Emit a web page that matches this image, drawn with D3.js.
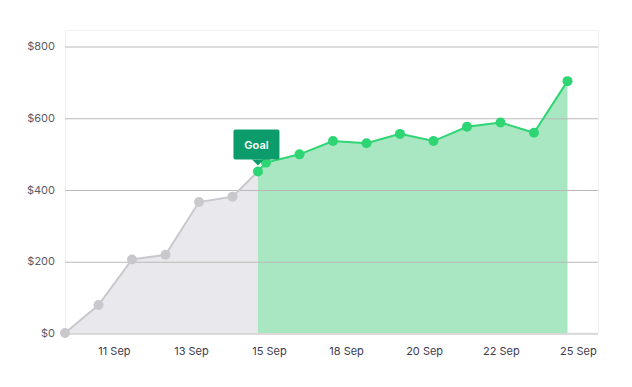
<!DOCTYPE html>
<html>
<head>
<meta charset="utf-8">
<script src="https://cdn.jsdelivr.net/npm/d3@7"></script>
<style>
  body { margin: 0; background: #fff; }
  text { font-family: Inter, "Noto Sans", sans-serif; }
</style>
</head>
<body>
<div id="graph"></div>
<script>
// actual savings, one per day slot (index 0..5)
var actualValues = [0, 78, 205, 218, 365, 380];
// goal point sits between slot 5 and 6
var goalIndex = 5.76;
var goalValue = 450;
// projected values, slots 6..15
var projectedValues = [475, 498, 535, 529, 555, 535, 575, 587, 558, 702];
// axis labels
var yTicks = [0, 200, 400, 600, 800];
var xTickLabels = ['11 Sep', '13 Sep', '15 Sep', '18 Sep', '20 Sep', '22 Sep', '25 Sep'];
var xTickIndex = [1.46, 3.76, 6.09, 8.39, 10.72, 13.01, 15.31];

window.onload = start;

function start() {
    var width = 632;
    var height = 387;

    var svg = d3.select('#graph')
        .append('svg')
        .attr('width', width)
        .attr('height', height);

    var xScale = d3.scaleLinear().domain([0, 15]).range([65, 567.5]);
    var yScale = d3.scaleLinear().domain([0, 800]).range([333, 46]);

    // plot frame
    svg.append('rect')
        .attr('x', 65.5).attr('y', 30.5)
        .attr('width', 533).attr('height', 302.5)
        .attr('fill', 'none')
        .attr('stroke', '#f0f0f0');

    var actual = actualValues.map(function(v, i) { return { i: i, v: v }; });
    actual.push({ i: goalIndex, v: goalValue });
    var projected = [{ i: goalIndex, v: goalValue }].concat(projectedValues.map(function(v, i) {
        return { i: i + 6, v: v };
    }));

    var area = d3.area()
        .x(function(d) { return xScale(d.i); })
        .y0(yScale(0))
        .y1(function(d) { return yScale(d.v); });
    var line = d3.line()
        .x(function(d) { return xScale(d.i); })
        .y(function(d) { return yScale(d.v); });

    svg.append('path').datum(actual).attr('d', area).attr('fill', '#e9e8ec');
    svg.append('path').datum(projected).attr('d', area).attr('fill', '#a9e6c2');

    // grid
    var yAxis = d3.axisLeft(yScale)
        .tickValues(yTicks)
        .tickSize(-533)
        .tickPadding(10)
        .tickFormat(function(d) { return '$' + d; });
    var gy = svg.append('g')
        .attr('transform', 'translate(65,0)')
        .call(yAxis);
    gy.select('.domain').remove();
    gy.selectAll('line').attr('stroke', '#b9b9b9').attr('transform', 'translate(0,0.5)');
    gy.selectAll('text').attr('fill', '#5a5a66').attr('font-size', 11);

    svg.append('path').datum(actual).attr('d', line)
        .attr('fill', 'none').attr('stroke', '#c9c8cd').attr('stroke-width', 2);
    svg.append('path').datum(projected).attr('d', line)
        .attr('fill', 'none').attr('stroke', '#2ed573').attr('stroke-width', 2);

    svg.append('g').selectAll('circle')
        .data(actual.slice(0, actualValues.length))
        .enter().append('circle')
        .attr('cx', function(d) { return xScale(d.i); })
        .attr('cy', function(d) { return yScale(d.v); })
        .attr('r', 5)
        .attr('fill', '#c9c8cd');

    svg.append('g').selectAll('circle')
        .data(projected)
        .enter().append('circle')
        .attr('cx', function(d) { return xScale(d.i); })
        .attr('cy', function(d) { return yScale(d.v); })
        .attr('r', 5)
        .attr('fill', '#2ed573');

    // x labels
    var xAxis = d3.axisBottom(xScale)
        .tickValues(xTickIndex)
        .tickSize(0)
        .tickPadding(14)
        .tickFormat(function(d, i) { return xTickLabels[i]; });
    var gx = svg.append('g')
        .attr('transform', 'translate(0,333)')
        .call(xAxis);
    gx.select('.domain').remove();
    gx.selectAll('text').attr('fill', '#3c3b4e').attr('font-size', 11);

    // goal tooltip
    var gxp = xScale(goalIndex);
    var gyp = yScale(goalValue);
    var tip = svg.append('g').attr('transform', 'translate(' + gxp + ',' + (gyp - 12) + ')');
    tip.append('rect')
        .attr('x', -24.5).attr('y', -30)
        .attr('width', 46).attr('height', 30)
        .attr('rx', 2)
        .attr('fill', '#0c9b6b');
    tip.append('path')
        .attr('d', 'M-6,0 L0,6 L6,0 Z')
        .attr('fill', '#0c9b6b');
    tip.append('text')
        .attr('x', -1.5).attr('y', -11)
        .attr('text-anchor', 'middle')
        .attr('fill', '#fff')
        .attr('font-size', 11)
        .attr('font-weight', 600)
        .text('Goal');
}
</script>
</body>
</html>
